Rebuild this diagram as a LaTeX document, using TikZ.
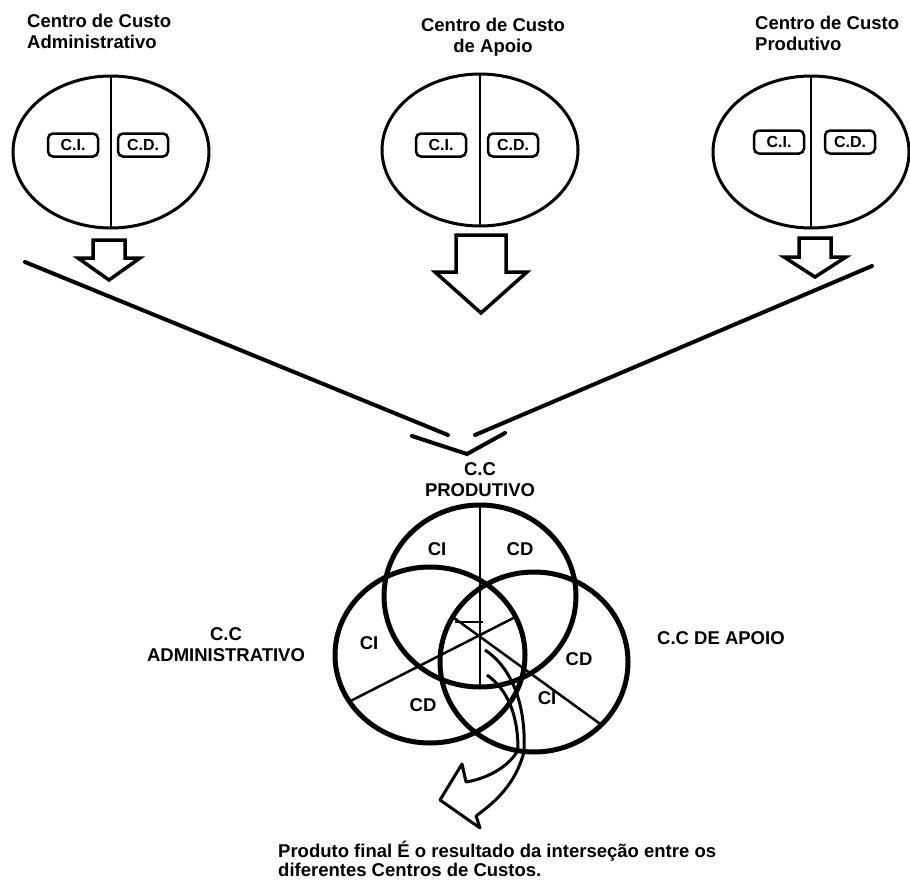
\documentclass[tikz,border=0pt]{standalone}
\usepackage{fontspec}
\setmainfont{Liberation Sans}
\usetikzlibrary{shapes.geometric}

\tikzset{
  lbl/.style={font=\bfseries\fontsize{18.5}{21}\selectfont, inner sep=0pt},
  cibox/.style={draw, line width=2.5pt, rounded corners=5pt, minimum width=50pt, minimum height=23pt, inner sep=0pt, font=\bfseries\fontsize{16}{18}\selectfont},
  ccell/.style={draw, ellipse, line width=3pt, inner sep=0pt, outer sep=0pt, minimum width=196pt, minimum height=152pt},
  venn/.style={draw, ellipse, line width=5pt, inner sep=0pt, outer sep=0pt},
  fat/.style={line width=4pt, line cap=round},
  blk/.style={line width=3.5pt, line join=miter},
  sector/.style={line width=2.5pt},
}

\begin{document}
\begin{tikzpicture}[x=1pt,y=-1pt]
\useasboundingbox[fill=white] (0,0) rectangle (910,881);

% the three cost centres on top
\node[ccell] (adm) at (111,152) {};
\draw[line width=2pt] (adm.north) -- (adm.south);
\node[cibox] (admci) at (73,145) {C.I.};
\node[cibox] (admcd) at (143,145) {C.D.};
\node[lbl, anchor=north west, align=left] (admtit) at (27,14) {Centro de Custo\\Administrativo};

\node[ccell] (apo) at (480,150) {};
\draw[line width=2pt] (apo.north) -- (apo.south);
\node[cibox] (apoci) at (441,145) {C.I.};
\node[cibox] (apocd) at (513,145) {C.D.};
\node[lbl, anchor=north, align=center] (apotit) at (493,18) {Centro de Custo\\de Apoio};

\node[ccell] (pro) at (811,152) {};
\draw[line width=2pt] (pro.north) -- (pro.south);
\node[cibox] (proci) at (779,142) {C.I.};
\node[cibox] (procd) at (850,142) {C.D.};
\node[lbl, anchor=north west, align=left] (protit) at (755,16) {Centro de Custo\\Produtivo};

% block arrows
\draw[blk] (93,240) -- (125,240) -- (125,258) -- (140,258) -- (109,280) -- (78,258) -- (93,258) -- cycle;
\draw[blk] (456,235) -- (506,235) -- (506,272) -- (527,272) -- (481,313) -- (435,272) -- (456,272) -- cycle;
\draw[blk] (799,238) -- (831,238) -- (831,257) -- (846,257) -- (815,277) -- (784,257) -- (799,257) -- cycle;

% funnel
\coordinate (l1) at (25,262);
\coordinate (l2) at (448,435);
\coordinate (r1) at (872,266);
\coordinate (r2) at (475,435);
\coordinate (v1) at (412,436);
\coordinate (v2) at (467,454);
\coordinate (v3) at (505,433);
\draw[fat] (l1) -- (l2);
\draw[fat] (r1) -- (r2);
\draw[fat] (v1) -- (v2) -- (v3);

% the three overlapping centres
\node[lbl, anchor=north, align=center] (ccprodtit) at (480,462) {C.C\\PRODUTIVO};
\node[venn, minimum width=192pt, minimum height=182pt] (ccprod) at (480,596) {};
\node[venn, minimum width=190pt, minimum height=176pt] (ccadm) at (430,655) {};
\node[venn, minimum width=188pt, minimum height=180pt] (ccapo) at (534,662) {};

\draw[sector] (ccprod.north) -- (ccprod.south);
\draw[sector] (ccadm.210) -- (ccadm.24);
\draw[sector] (ccapo.151) -- (ccapo.317);
\coordinate (h1) at (455,622);
\coordinate (h2) at (483,622);
\draw[sector] (h1) -- (h2);

\node[lbl] (pci) at (437,549) {CI};
\node[lbl] (pcd) at (520,549) {CD};
\node[lbl] (aci) at (369,643) {CI};
\node[lbl] (acd) at (423,705) {CD};
\node[lbl] (bcd) at (579,659) {CD};
\node[lbl] (bci) at (547,698) {CI};

\node[lbl, align=center] (admlbl) at (226,645) {C.C\\ADMINISTRATIVO};
\node[lbl, anchor=west] (apolbl) at (657,638) {C.C DE APOIO};

% curved arrow out of the intersection
\draw[line width=3pt, line join=round] (485,650) .. controls (515,670) and (526,710) .. (524,752)
  .. controls (515,785) and (495,802) .. (476,816)
  -- (480,828) -- (440,800) -- (462,764) -- (466,782)
  .. controls (490,778) and (510,765) .. (518,750)
  .. controls (518,715) and (508,690) .. (487,675);

\node[lbl, anchor=north west, align=left, font=\bfseries\fontsize{18.5}{19}\selectfont] (final) at (278,841) {Produto final É o resultado da interseção entre os\\diferentes Centros de Custos.};
\end{tikzpicture}
\end{document}
